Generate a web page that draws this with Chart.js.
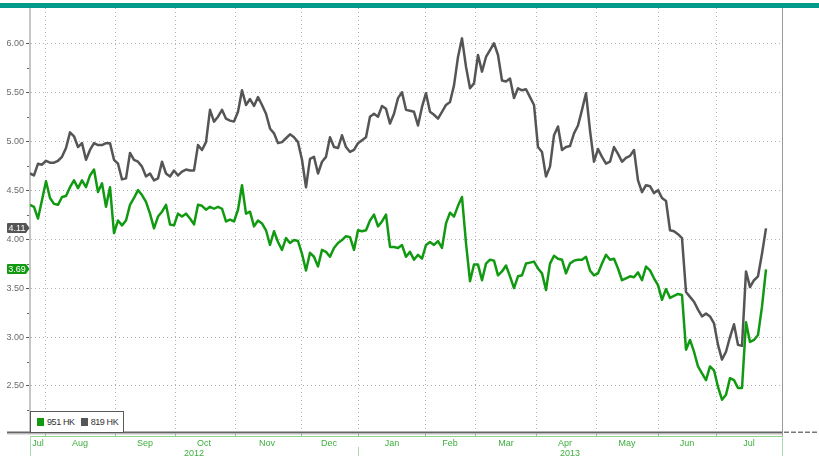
<!DOCTYPE html>
<html>
<head>
<meta charset="utf-8">
<script src="https://cdn.jsdelivr.net/npm/chart.js"></script>
<style>
  body { margin: 0; background: #fff; }
  #wrap { position: relative; width: 819px; height: 456px; overflow: hidden; }
  #legend {
    position: absolute; left: 30px; top: 411px; width: 94px; height: 22px;
    box-sizing: border-box; border: 1px solid #5a5a5a; background: #fff;
    display: flex; align-items: center; padding-left: 6px;
    font: 9px 'Liberation Sans Narrow', 'Liberation Sans', Arial, sans-serif; color: #333;
    letter-spacing: -0.4px;
  }
  #legend .item { display: flex; align-items: center; margin-right: 6px; white-space: nowrap; }
  #legend i { display: inline-block; width: 7px; height: 8px; margin-right: 3px; }
</style>
</head>
<body>
<div id="wrap">
  <canvas id="myChart" width="819" height="456"></canvas>
  <div id="legend"></div>
</div>
<script>
// daily closes, one per trading day (index = trading day since start)
const seriesNames = ["951 HK", "819 HK"];
const seriesColors = ["#119a11", "#555555"];

const hk951 = [
  4.35, 4.33, 4.21, 4.40, 4.59, 4.42, 4.36, 4.35, 4.43, 4.44, 4.53, 4.60, 4.52, 4.60, 4.53, 4.65, 4.71, 4.48, 4.57, 4.33, 4.53, 4.06, 4.19, 4.14, 4.19, 4.35, 4.42, 4.50, 4.45, 4.38, 4.26,
  4.11, 4.23, 4.28, 4.35, 4.15, 4.14, 4.26, 4.23, 4.26, 4.21, 4.15, 4.35, 4.34, 4.30, 4.33, 4.31, 4.33, 4.31, 4.18, 4.20, 4.18, 4.30, 4.55, 4.26, 4.28, 4.13, 4.19, 4.16, 4.09, 3.94, 4.08,
  3.97, 3.89, 4.01, 3.96, 3.99, 3.98, 3.85, 3.68, 3.86, 3.82, 3.72, 3.89, 3.87, 3.82, 3.91, 3.96, 3.99, 4.03, 4.02, 3.89, 4.09, 4.08, 4.09, 4.19, 4.25, 4.13, 4.18, 4.25, 3.92, 3.92, 3.91,
  3.94, 3.82, 3.87, 3.79, 3.84, 3.80, 3.94, 3.97, 3.94, 3.98, 3.91, 4.16, 4.27, 4.23, 4.34, 4.43, 3.96, 3.57, 3.74, 3.74, 3.58, 3.75, 3.79, 3.78, 3.63, 3.67, 3.73, 3.62, 3.50, 3.62, 3.63,
  3.75, 3.76, 3.77, 3.70, 3.65, 3.48, 3.75, 3.83, 3.80, 3.79, 3.65, 3.75, 3.78, 3.79, 3.79, 3.82, 3.68, 3.63, 3.65, 3.75, 3.84, 3.79, 3.80, 3.70, 3.58, 3.60, 3.62, 3.61, 3.66, 3.58, 3.72,
  3.68, 3.60, 3.53, 3.38, 3.49, 3.40, 3.42, 3.44, 3.43, 2.87, 2.97, 2.85, 2.70, 2.63, 2.56, 2.70, 2.66, 2.49, 2.36, 2.41, 2.58, 2.56, 2.48, 2.48, 3.15, 2.95, 2.97, 3.02, 3.31, 3.69
];

const hk819 = [
  4.67, 4.65, 4.77, 4.76, 4.80, 4.78, 4.78, 4.80, 4.84, 4.93, 5.09, 5.05, 4.94, 4.98, 4.81, 4.91, 4.98, 4.96, 4.96, 4.98, 4.98, 4.81, 4.77, 4.61, 4.62, 4.88, 4.81, 4.79, 4.74, 4.64, 4.67,
  4.60, 4.62, 4.79, 4.67, 4.64, 4.70, 4.65, 4.69, 4.71, 4.70, 4.70, 4.96, 4.91, 4.99, 5.32, 5.20, 5.25, 5.32, 5.23, 5.21, 5.20, 5.30, 5.52, 5.37, 5.43, 5.36, 5.45, 5.37, 5.28, 5.13, 5.08,
  4.98, 4.99, 5.03, 5.07, 5.04, 4.99, 4.81, 4.53, 4.82, 4.84, 4.67, 4.79, 4.84, 5.04, 4.94, 4.93, 5.06, 4.94, 4.89, 4.91, 4.98, 5.01, 5.04, 5.25, 5.28, 5.25, 5.36, 5.33, 5.18, 5.28, 5.44,
  5.50, 5.32, 5.31, 5.30, 5.16, 5.35, 5.49, 5.30, 5.27, 5.23, 5.30, 5.37, 5.40, 5.57, 5.86, 6.05, 5.76, 5.54, 5.59, 5.88, 5.71, 5.86, 5.93, 6.00, 5.88, 5.62, 5.61, 5.64, 5.44, 5.54, 5.52,
  5.53, 5.45, 5.37, 4.94, 4.89, 4.64, 4.74, 5.06, 5.15, 4.91, 4.94, 4.95, 5.08, 5.16, 5.32, 5.49, 5.11, 4.79, 4.92, 4.84, 4.77, 4.79, 4.94, 4.87, 4.79, 4.83, 4.85, 4.91, 4.60, 4.48, 4.55,
  4.54, 4.47, 4.50, 4.42, 4.39, 4.09, 4.08, 4.05, 4.01, 3.46, 3.41, 3.36, 3.28, 3.21, 3.24, 3.21, 3.14, 2.92, 2.77, 2.85, 3.00, 3.13, 2.92, 2.91, 3.67, 3.51, 3.58, 3.62, 3.85, 4.11
];

// x axis: month boundaries and month label positions, in trading-day index
const monthStarts = [3.75, 21.25, 36.25, 51.25, 67.75, 82, 98.75, 111.25, 126.5, 141.5, 157, 171.5, 188];
const monthNames = ["Jul", "Aug", "Sep", "Oct", "Nov", "Dec", "Jan", "Feb", "Mar", "Apr", "May", "Jun", "Jul"];
const monthMids = [2, 12.5, 28.75, 43.5, 59.25, 74.75, 90.5, 105, 119, 133.75, 149.25, 164.25, 179.75];
const yearNames = ["2012", "2013"];
const yearBounds = [0, 82, 188];
const dayMax = 188;

const yTicks = [2.5, 3.0, 3.5, 4.0, 4.5, 5.0, 5.5, 6.0];
const yMin = 2.02, yMax = 6.36;

const FONT = "'Liberation Sans Narrow', 'Liberation Sans', Arial, sans-serif";
const AXIS_GREEN = "#3fae3f";

const decor = {
  id: "decor",
  afterDraw(chart) {
    const { ctx, chartArea: a, scales: { x, y } } = chart;
    ctx.save();
    // top band
    ctx.fillStyle = "#009a8b";
    ctx.fillRect(0, 3, 819, 5);
    // right border
    ctx.strokeStyle = "#9a9a9a";
    ctx.lineWidth = 1;
    ctx.beginPath();
    ctx.moveTo(Math.round(a.right) + 0.5, a.top);
    ctx.lineTo(Math.round(a.right) + 0.5, a.bottom + 23);
    ctx.stroke();
    // bottom axis line
    ctx.fillStyle = "#666";
    ctx.fillRect(7, a.bottom - 1.5, a.right - 7, 2);
    ctx.fillStyle = "#c4c4c4";
    ctx.fillRect(7, a.bottom + 0.5, a.right - 7, 1);
    ctx.fillStyle = "#777";
    for (let px = a.right + 2; px < 819; px += 7) ctx.fillRect(px, a.bottom - 1.5, 5, 1.5);
    // green line under axis
    ctx.fillStyle = "#8fd48f";
    ctx.fillRect(a.left, a.bottom + 3, a.right - a.left, 1);
    // minor y ticks
    ctx.fillStyle = "#666";
    for (let i = 0; i < yTicks.length; i++) {
      const py = Math.round(y.getPixelForValue(yTicks[i] - 0.25));
      ctx.fillRect(a.left - 3, py, 2, 1);
    }
    // years
    ctx.font = "9px " + FONT;
    ctx.textAlign = "center";
    ctx.textBaseline = "top";
    for (let k = 0; k < yearBounds.length; k++) {
      const px = Math.round(x.getPixelForValue(yearBounds[k])) + 0.5;
      ctx.strokeStyle = "#a8dca8";
      ctx.beginPath();
      ctx.moveTo(px, k === 1 ? a.bottom + 14 : a.bottom + 3);
      ctx.lineTo(px, 456);
      ctx.stroke();
      if (k < yearNames.length) {
        const mid = (x.getPixelForValue(yearBounds[k]) + x.getPixelForValue(yearBounds[k + 1])) / 2;
        ctx.fillStyle = AXIS_GREEN;
        ctx.fillText(yearNames[k], mid, a.bottom + 16);
      }
    }
    // last value tags on the y axis
    chart.data.datasets.forEach(ds => {
      const last = ds.data[ds.data.length - 1].y;
      const cy = Math.round(y.getPixelForValue(last));
      ctx.fillStyle = ds.borderColor;
      ctx.beginPath();
      ctx.moveTo(8, cy - 5);
      ctx.lineTo(26, cy - 5);
      ctx.lineTo(29.5, cy);
      ctx.lineTo(26, cy + 5);
      ctx.lineTo(8, cy + 5);
      ctx.quadraticCurveTo(7, cy + 5, 7, cy + 4);
      ctx.lineTo(7, cy - 4);
      ctx.quadraticCurveTo(7, cy - 5, 8, cy - 5);
      ctx.fill();
      ctx.fillStyle = "#fff";
      ctx.textAlign = "center";
      ctx.textBaseline = "middle";
      ctx.fillText(last.toFixed(2), 17, cy + 0.5);
    });
    ctx.restore();
  }
};

new Chart("myChart", {
  type: "line",
  data: {
    datasets: [
      { label: seriesNames[0], data: hk951.map((v, i) => ({ x: i, y: v })), borderColor: seriesColors[0] },
      { label: seriesNames[1], data: hk819.map((v, i) => ({ x: i, y: v })), borderColor: seriesColors[1] }
    ]
  },
  options: {
    responsive: false,
    animation: false,
    devicePixelRatio: 1,
    layout: { padding: { top: 8, right: 37, left: 0, bottom: 0 } },
    elements: {
      line: { borderWidth: 2.5, tension: 0, borderJoinStyle: "round" },
      point: { radius: 0 }
    },
    plugins: { legend: { display: false }, tooltip: { enabled: false } },
    scales: {
      x: {
        type: "linear",
        min: 0,
        max: dayMax,
        bounds: "data",
        afterBuildTicks: s => {
          const t = monthStarts.map(v => ({ value: v, kind: "start" }))
            .concat(monthMids.map((v, i) => ({ value: v, kind: "mid", name: monthNames[i] })));
          t.sort((p, q) => p.value - q.value);
          s.ticks = t;
        },
        afterFit: s => { s.height = 23; },
        ticks: {
          autoSkip: false,
          maxRotation: 0,
          minRotation: 0,
          padding: 1,
          color: AXIS_GREEN,
          font: { family: FONT, size: 9 },
          callback: (v, i, t) => t[i].kind === "mid" ? t[i].name : ""
        },
        grid: {
          color: c => (c.tick && c.tick.kind === "mid") ? "rgba(0,0,0,0)" : "#b2b2b2",
          tickColor: c => (c.tick && c.tick.kind === "mid") ? "rgba(0,0,0,0)" : "#7cc87c",
          tickLength: 4,
          lineWidth: 1
        },
        border: { display: false, dash: [1, 3] }
      },
      y: {
        min: yMin,
        max: yMax,
        bounds: "data",
        afterBuildTicks: s => { s.ticks = yTicks.map(v => ({ value: v })); },
        afterFit: s => { s.width = 30; },
        ticks: {
          padding: 2,
          color: "#6a6a6a",
          font: { family: FONT, size: 9 },
          callback: v => v.toFixed(2)
        },
        grid: {
          color: "#b2b2b2",
          tickColor: "#555",
          tickLength: 4,
          lineWidth: 1
        },
        border: { display: true, color: "#c6c6c6", width: 2, dash: [1, 3] }
      }
    }
  },
  plugins: [decor]
});

const legend = document.getElementById("legend");
seriesNames.forEach((name, k) => {
  const item = document.createElement("span");
  item.className = "item";
  const sw = document.createElement("i");
  sw.style.background = seriesColors[k];
  item.appendChild(sw);
  item.appendChild(document.createTextNode(name));
  legend.appendChild(item);
});
</script>
</body>
</html>
